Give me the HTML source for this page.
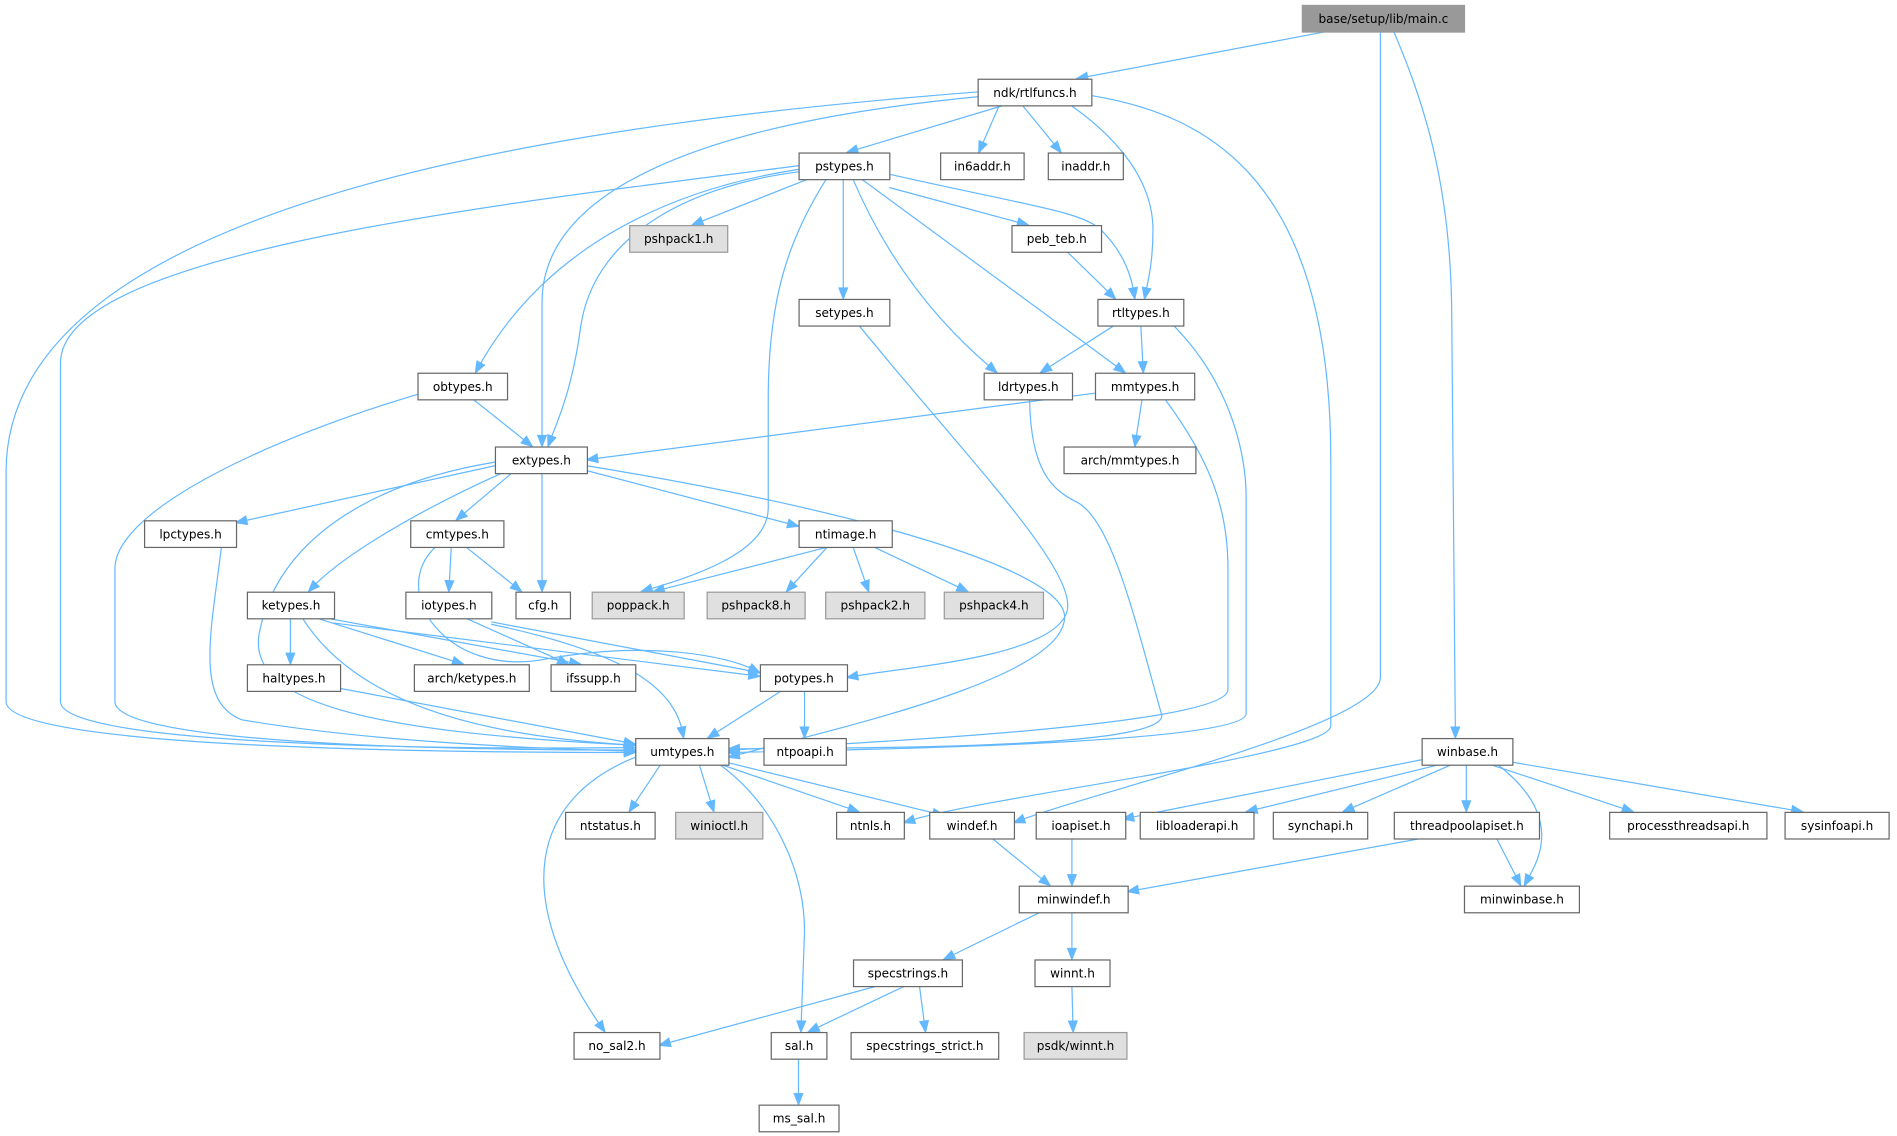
<!DOCTYPE html>
<html><head><meta charset="utf-8"><style>
html,body{margin:0;padding:0;background:#fff;}
svg{display:block;}
text{font-family:"DejaVu Sans","Liberation Sans",sans-serif;font-size:10px;fill:#000;}
</style></head><body>
<svg id="g" width="1897" height="1136" viewBox="0 0 1568 939" xmlns="http://www.w3.org/2000/svg">
<g id="edges" fill="none" stroke="#63b8ff" stroke-width="1"></g>
<g id="arrows" fill="#63b8ff" stroke="#63b8ff" stroke-width="1"></g>
<g id="nodes"></g>
</svg>
<script>
var nodes=[
["base/setup/lib/main.c",1076,4,1210,26,2],
["ndk/rtlfuncs.h",808,65,902,87],
["pstypes.h",660,126,735,148],
["in6addr.h",777,126,846,148],
["inaddr.h",866,126,928,148],
["pshpack1.h",520,186,601,208,1],
["peb_teb.h",836,186,910,208],
["setypes.h",660,247,735,269],
["rtltypes.h",907,247,978,269],
["obtypes.h",345,308,419,330],
["ldrtypes.h",813,308,886,330],
["mmtypes.h",905,308,987,330],
["extypes.h",409,369,485,391],
["arch/mmtypes.h",879,369,988,391],
["lpctypes.h",119,430,195,452],
["cmtypes.h",339,430,416,452],
["ntimage.h",660,430,737,452],
["ketypes.h",204,489,276,511],
["iotypes.h",335,489,406,511],
["cfg.h",426,489,471,511],
["poppack.h",489,489,565,511,1],
["pshpack8.h",584,489,665,511,1],
["pshpack2.h",682,489,764,511,1],
["pshpack4.h",780,489,862,511,1],
["haltypes.h",204,549,281,571],
["arch/ketypes.h",342,549,437,571],
["ifssupp.h",455,549,525,571],
["potypes.h",628,549,700,571],
["umtypes.h",525,610,602,632],
["ntpoapi.h",631,610,699,632],
["winbase.h",1175,610,1250,632],
["ntstatus.h",467,671,541,693],
["winioctl.h",558,671,630,693,1],
["ntnls.h",691,671,747,693],
["windef.h",768,671,838,693],
["ioapiset.h",856,671,930,693],
["libloaderapi.h",942,671,1036,693],
["synchapi.h",1052,671,1130,693],
["threadpoolapiset.h",1152,671,1272,693],
["processthreadsapi.h",1330,671,1460,693],
["sysinfoapi.h",1475,671,1561,693],
["minwindef.h",842,732,932,754],
["minwinbase.h",1210,732,1305,754],
["specstrings.h",705,793,795,815],
["winnt.h",855,793,917,815],
["no_sal2.h",474,853,545,875],
["sal.h",637,853,683,875],
["specstrings_strict.h",703,853,825,875],
["psdk/winnt.h",846,853,931,875,1],
["ms_sal.h",627,913,693,935]
];
var edges=[
"M1097,26 L890,65",
"M1141,26 L1141,560 C1141,600 900,655 838,680",
"M1152,26 C1175,80 1200,150 1200,265 L1203,610",
"M830,87 L700,126",
"M826,87 L809,126",
"M845,87 L877,126",
"M885,87 C925,115 953,150 953,190 C953,220 948,235 946,247",
"M808,80 C600,100 448,150 448,250 L448,369",
"M808,76 C500,100 5,160 5,390 L5,580 C5,615 300,622 525,622",
"M902,79 C1000,95 1100,150 1100,380 L1100,600 C1100,625 800,660 747,680",
"M668,148 L572,186",
"M697,148 L697,247",
"M735,155 L850,186",
"M735,144 C850,170 895,175 910,190 C930,210 936,230 938,247",
"M705,148 C740,230 790,280 824,308",
"M712,148 L930,308",
"M660,140 C530,160 440,220 393,308",
"M660,142 C560,155 490,200 480,270 C472,330 456,358 453,369",
"M683,148 C650,200 635,250 635,330 L635,420 C635,460 560,480 530,489",
"M660,137 C400,170 50,210 50,300 L50,580 C50,612 300,620 525,618",
"M710,269 C800,380 900,480 880,510 C860,545 740,552 700,560",
"M882,208 L922,247",
"M921,269 L860,308",
"M943,269 L945,308",
"M970,269 C1020,320 1030,380 1030,410 L1030,590 C1030,615 700,620 602,622",
"M391,330 L440,369",
"M345,326 C230,360 95,420 95,470 L95,580 C95,610 300,620 525,620",
"M851,330 C852,390 870,405 890,415 C920,430 940,520 960,590 C970,620 700,618 602,619",
"M905,325 L485,380",
"M944,330 L938,369",
"M963,330 C1000,380 1015,420 1015,470 L1015,570 C1015,600 700,615 602,620",
"M409,385 L195,432",
"M423,391 L377,430",
"M448,391 L448,489",
"M485,389 L660,435",
"M415,391 C350,420 280,460 255,489",
"M409,382 C300,400 230,450 215,520 C200,580 300,605 525,616",
"M485,385 C700,420 880,470 880,510 C880,560 700,600 602,626",
"M183,452 C175,520 160,580 200,595 C300,612 420,618 525,621",
"M373,452 L371,489",
"M385,452 L431,489",
"M360,452 C320,490 370,560 450,545 C530,530 600,540 628,556",
"M685,452 L540,489",
"M684,452 L650,489",
"M705,452 L718,489",
"M722,452 L800,489",
"M240,511 L240,549",
"M262,511 L383,549",
"M270,511 L480,549",
"M276,515 L628,559",
"M250,511 C300,590 420,610 525,616",
"M385,511 L470,549",
"M406,514 L628,556",
"M406,516 C520,540 560,570 565,610",
"M281,569 L525,615",
"M646,571 L585,610",
"M665,571 L665,610",
"M546,632 L520,671",
"M578,632 L590,671",
"M596,632 L710,671",
"M600,630 L780,674",
"M525,626 C440,660 420,740 500,853",
"M595,632 C640,665 665,720 665,770 L662,853",
"M1175,628 L928,677",
"M1190,632 L1030,671",
"M1200,632 L1110,671",
"M1212,632 L1212,671",
"M1232,632 L1350,671",
"M1250,630 L1490,671",
"M1238,632 C1300,680 1265,720 1260,732",
"M1175,693 L932,737",
"M1237,693 L1257,732",
"M820,693 L868,732",
"M886,693 L886,732",
"M860,754 L780,793",
"M886,754 L886,793",
"M886,815 L887,853",
"M725,815 L545,864",
"M748,815 L668,853",
"M760,815 L765,853",
"M660,875 L660,913"
];
var NS="http://www.w3.org/2000/svg";
var eg=document.getElementById("edges"),ag=document.getElementById("arrows"),ng=document.getElementById("nodes");
edges.forEach(function(d){
 var p=document.createElementNS(NS,"path");p.setAttribute("d",d);eg.appendChild(p);
 var L=p.getTotalLength();var e=p.getPointAtLength(L),b=p.getPointAtLength(Math.max(0,L-9));
 var dx=e.x-b.x,dy=e.y-b.y,n=Math.sqrt(dx*dx+dy*dy)||1;dx/=n;dy/=n;
 var bx=e.x-dx*9,by=e.y-dy*9,w=3.5;
 var a=document.createElementNS(NS,"polygon");
 a.setAttribute("points",e.x+","+e.y+" "+(bx-dy*w)+","+(by+dx*w)+" "+(bx+dy*w)+","+(by-dx*w));
 ag.appendChild(a);
});
nodes.forEach(function(n){
 var r=document.createElementNS(NS,"rect");
 r.setAttribute("x",n[1]+0.5);r.setAttribute("y",n[2]+0.5);
 r.setAttribute("width",n[3]-n[1]);r.setAttribute("height",n[4]-n[2]);
 r.setAttribute("fill",n[5]==2?"#999999":(n[5]==1?"#e0e0e0":"#ffffff"));
 r.setAttribute("stroke",n[5]?"#999999":"#666666");
 ng.appendChild(r);
 var t=document.createElementNS(NS,"text");
 t.setAttribute("x",(n[1]+n[3])/2+0.5);t.setAttribute("y",(n[2]+n[4])/2+4);
 t.setAttribute("text-anchor","middle");t.textContent=n[0];ng.appendChild(t);
});
</script>
</body></html>
